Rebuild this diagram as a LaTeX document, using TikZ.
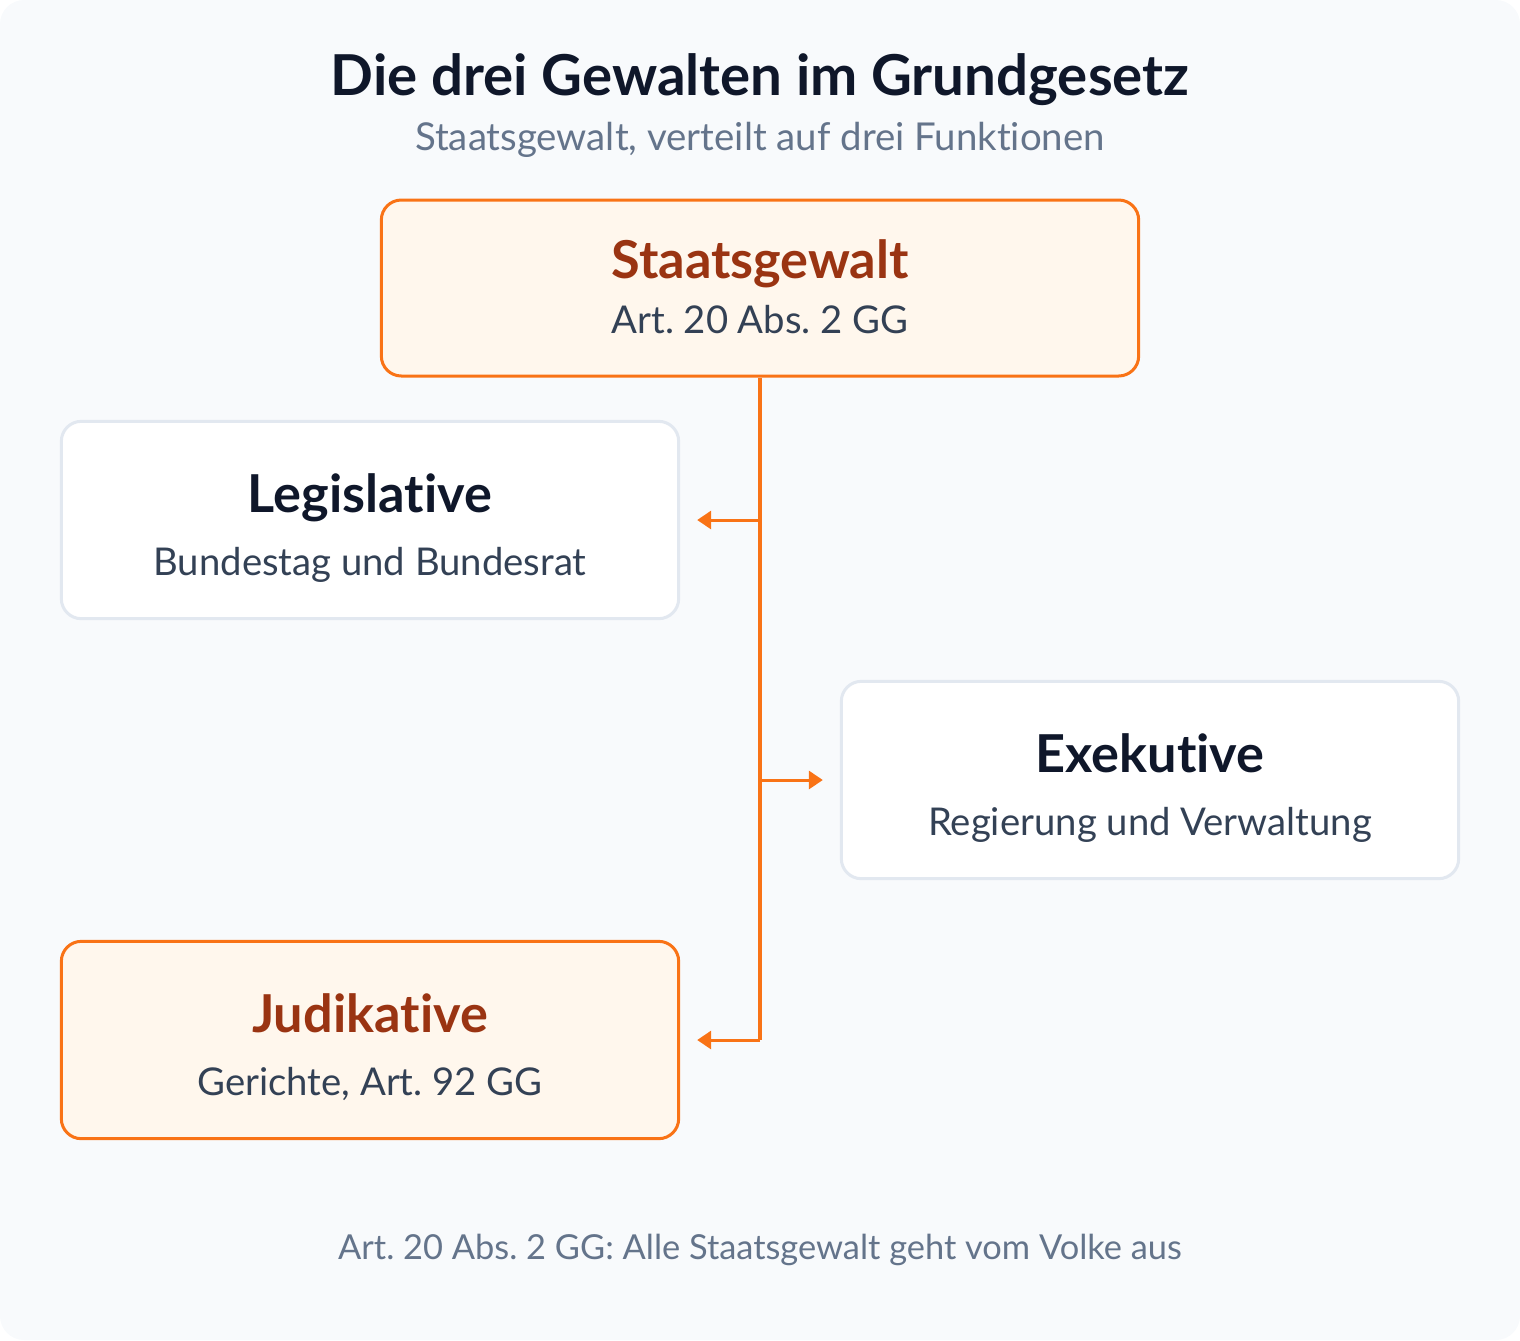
\documentclass[tikz,border=0pt]{standalone}
\usepackage{fontspec}
\setmainfont{Lato}[Ligatures=NoCommon]
\usetikzlibrary{arrows.meta,positioning}
\frenchspacing

\definecolor{pagebg}{HTML}{F8FAFC}
\definecolor{hotline}{HTML}{F97316}
\definecolor{hotfill}{HTML}{FFF7ED}
\definecolor{hottext}{HTML}{9A3412}
\definecolor{coolline}{HTML}{E2E8F0}
\definecolor{darktext}{HTML}{0F172A}
\definecolor{bodytext}{HTML}{334155}
\definecolor{greytext}{HTML}{64748B}

\begin{document}
\begin{tikzpicture}[x=0.75pt,y=-0.75pt]
			\tikzstyle{every node}+=[inner sep=0pt]
			\tikzstyle{hotbox}=[draw=hotline,fill=hotfill,line width=2.25pt,rounded corners=15pt]
			\tikzstyle{coolbox}=[draw=coolline,fill=white,line width=2.25pt,rounded corners=15pt]
			\tikzstyle{head}=[anchor=base,font=\fontsize{39.2pt}{44pt}\selectfont\bfseries]
			\tikzstyle{sub}=[anchor=base,font=\fontsize{28.7pt}{32pt}\selectfont,text=bodytext]
			\tikzstyle{feed}=[draw=hotline,line width=2.25pt,-{Triangle[length=10.5pt,width=13.5pt]}]
			\useasboundingbox (0,0) rectangle (1520,1340);
			\fill [pagebg,rounded corners=18pt] (0,0) rectangle (1520,1340);
			\node [anchor=base,font=\fontsize{42.3pt}{46pt}\selectfont\bfseries,text=darktext] (title) at (760,95) {Die drei Gewalten im Grundgesetz};
			\node [anchor=base,font=\fontsize{28.8pt}{32pt}\selectfont,text=greytext] (subtitle) at (760,150) {Staatsgewalt, verteilt auf drei Funktionen};
			\node [hotbox,minimum width=568pt,minimum height=132pt] (staat) at (760,288) {};
			\node [coolbox,minimum width=463pt,minimum height=148pt] (legis) at (370,520) {};
			\node [coolbox,minimum width=463pt,minimum height=148pt] (exek) at (1150,780) {};
			\node [hotbox,minimum width=463pt,minimum height=148pt] (judi) at (370,1040) {};
			\node [head,text=hottext] (staathead) at (760,278) {Staatsgewalt};
			\node [sub] (staatsub) at (760,333) {Art. 20 Abs. 2 GG};
			\node [head,text=darktext] (legishead) at (370,512) {Legislative};
			\node [sub] (legissub) at (370,575) {Bundestag und Bundesrat};
			\node [head,text=darktext] (exekhead) at (1150,772) {Exekutive};
			\node [sub] (exeksub) at (1150,835) {Regierung und Verwaltung};
			\node [head,text=hottext] (judihead) at (370,1032) {Judikative};
			\node [sub] (judisub) at (370,1095) {Gerichte, Art. 92 GG};
			\node [anchor=base,font=\fontsize{25.8pt}{30pt}\selectfont,text=greytext] (footer) at (760,1259) {Art. 20 Abs. 2 GG: Alle Staatsgewalt geht vom Volke aus};
			\coordinate (tl) at (760,520);
			\coordinate (tr) at (760,780);
			\coordinate (tj) at (760,1040);
			\draw [hotline,line width=3pt] (staat.south) -- (tj);
			\draw [feed,shorten >=12.75pt] (tl) -- (legis.east);
			\draw [feed,shorten >=12.75pt] (tr) -- (exek.west);
			\draw [feed,shorten >=12.75pt] (tj) -- (judi.east);
\end{tikzpicture}
\end{document}
